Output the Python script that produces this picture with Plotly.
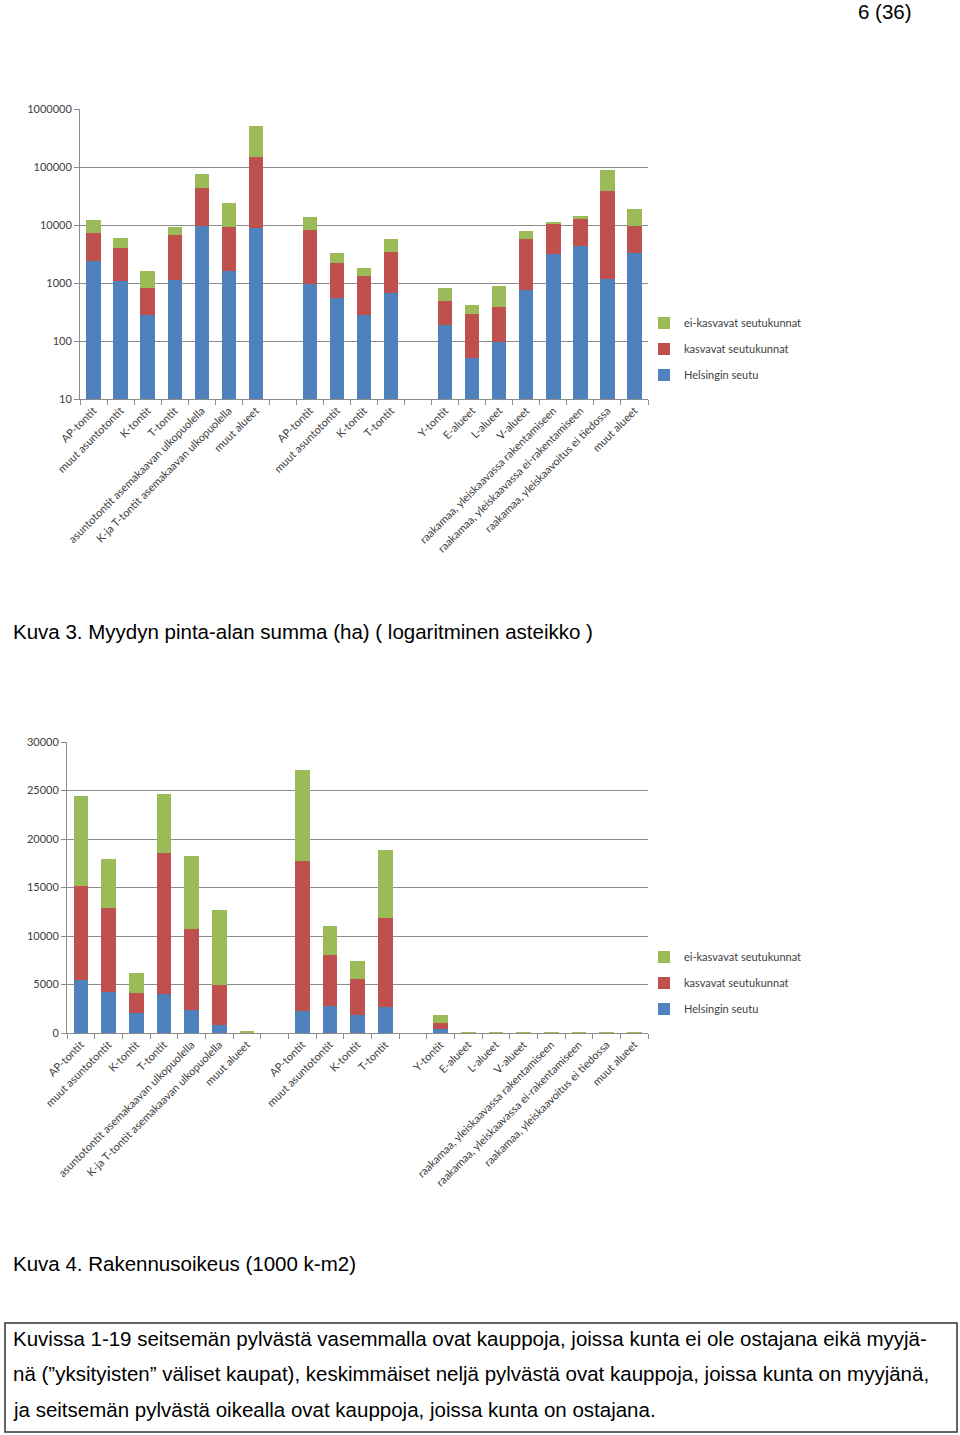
import plotly.graph_objects as go

W, H = 960, 1435

# ---- categories (21 slots incl. two empty spacers) ----
categories = [
    "AP-tontit", "muut asuntotontit", "K-tontit", "T-tontit",
    "asuntotontit asemakaavan ulkopuolella",
    "K-ja T-tontit asemakaavan ulkopuolella", "muut alueet",
    " ",
    "AP-tontit\u200b", "muut asuntotontit\u200b", "K-tontit\u200b", "T-tontit\u200b",
    "  ",
    "Y-tontit", "E-alueet", "L-alueet", "V-alueet",
    "raakamaa, yleiskaavassa rakentamiseen",
    "raakamaa, yleiskaavassa ei-rakentamiseen",
    "raakamaa, yleiskaavoitus ei tiedossa",
    "muut alueet\u200b",
]

series_names = ["Helsingin seutu", "kasvavat seutukunnat", "ei-kasvavat seutukunnat"]
colors = ["#4F81BD", "#C0504D", "#9BBB59"]
legend_ranks = [3, 2, 1]

# ---- Kuva 3: area sum (ha), segment values ----
area_helsinki = [2430, 1100, 280, 1110, 9490, 1590, 9000, None,
                 960, 560, 280, 664, None,
                 191, 50, 98, 748, 3120, 4280, 1170, 3290]
area_growing = [4750, 2900, 540, 5530, 34500, 7770, 141000, None,
                7140, 1650, 1020, 2716, None,
                305, 242, 282, 4990, 7680, 8420, 36800, 6200]
area_nongrowing = [4820, 1970, 790, 2600, 31700, 14540, 366000, None,
                   5600, 1030, 510, 2360, None,
                   324, 126, 508, 2140, 200, 1600, 51900, 9110]

# ---- Kuva 4: building rights (1000 k-m2), segment values ----
br_helsinki = [5430, 4260, 2060, 4050, 2400, 860, 5, None,
               2230, 2750, 1820, 2710, None,
               450, 5, 5, 10, 80, 80, 5, 5]
br_growing = [9690, 8630, 2100, 14510, 8360, 4090, 10, None,
              15540, 5290, 3710, 9110, None,
              580, 10, 10, 10, 5, 5, 80, 10]
br_nongrowing = [9280, 5050, 1990, 6080, 7450, 7760, 100, None,
                 9310, 3030, 1890, 7010, None,
                 830, 60, 60, 60, 5, 5, 5, 60]

log_ticks = [10, 100, 1000, 10000, 100000, 1000000]
lin_ticks = [0, 5000, 10000, 15000, 20000, 25000, 30000]

fig = go.Figure()

for i, vals in enumerate([area_helsinki, area_growing, area_nongrowing]):
    fig.add_trace(go.Bar(x=categories, y=vals, name=series_names[i],
                         marker=dict(color=colors[i], line=dict(width=0)),
                         xaxis="x", yaxis="y", legend="legend",
                         legendgroup="a%d" % i, legendrank=legend_ranks[i]))
for i, vals in enumerate([br_helsinki, br_growing, br_nongrowing]):
    fig.add_trace(go.Bar(x=categories, y=vals, name=series_names[i],
                         marker=dict(color=colors[i], line=dict(width=0)),
                         xaxis="x2", yaxis="y2", legend="legend2",
                         legendgroup="b%d" % i, legendrank=legend_ranks[i]))

grid = "#8C8C8C"
tickfont = dict(family="Lato", size=11, color="#404040")

def px_x(p):
    return p / W

def px_y(p):
    return 1 - p / H

xcommon = dict(type="category", categoryorder="array", categoryarray=categories,
               tickson="boundaries", ticks="outside", ticklen=5, tickcolor=grid,
               showline=True, linecolor=grid, linewidth=1, showgrid=False,
               tickangle=-45, tickfont=tickfont, range=[-0.5, 20.5],
               fixedrange=True, automargin=False)
ycommon = dict(showgrid=True, gridcolor=grid, gridwidth=1, showline=True,
               linecolor=grid, ticks="outside", ticklen=5, tickcolor=grid,
               tickfont=tickfont, zeroline=False, automargin=False)

legfont = dict(family="Lato", size=11, color="#404040")

fig.update_layout(
    width=W, height=H,
    margin=dict(l=0, r=0, t=0, b=0, autoexpand=False),
    paper_bgcolor="white", plot_bgcolor="white",
    barmode="stack", bargap=0.47,
    xaxis=dict(domain=[px_x(80), px_x(648)], anchor="y", **xcommon),
    yaxis=dict(domain=[px_y(399), px_y(109)], anchor="x", type="log",
               range=[1, 6], tickvals=log_ticks,
               ticktext=[str(v) for v in log_ticks], **ycommon),
    xaxis2=dict(domain=[px_x(67), px_x(648)], anchor="y2", **xcommon),
    yaxis2=dict(domain=[px_y(1033), px_y(742)], anchor="x2",
                range=[0, 30000], tickvals=lin_ticks,
                ticktext=[str(v) for v in lin_ticks], **ycommon),
    legend=dict(x=px_x(644), xanchor="left", y=px_y(349), yanchor="middle",
                traceorder="grouped", tracegroupgap=7,
                font=legfont, bgcolor="rgba(0,0,0,0)"),
    legend2=dict(x=px_x(644), xanchor="left", y=px_y(983), yanchor="middle",
                 traceorder="grouped", tracegroupgap=7,
                 font=legfont, bgcolor="rgba(0,0,0,0)"),
    showlegend=True,
)

body = dict(family="Liberation Sans, Arial", size=20.5, color="black")
annots = [
    dict(text="6 (36)", x=px_x(914), y=px_y(12), xanchor="right", yanchor="middle"),
    dict(text="Kuva 3. Myydyn pinta-alan summa (ha) ( logaritminen asteikko )",
         x=px_x(11), y=px_y(631), xanchor="left", yanchor="middle"),
    dict(text="Kuva 4. Rakennusoikeus (1000 k-m2)",
         x=px_x(11), y=px_y(1263), xanchor="left", yanchor="middle"),
    dict(text="Kuvissa 1-19 seitsemän pylvästä vasemmalla ovat kauppoja, joissa kunta ei ole ostajana eikä myyjä-",
         x=px_x(11), y=px_y(1338), xanchor="left", yanchor="middle"),
    dict(text="nä (”yksityisten” väliset kaupat), keskimmäiset neljä pylvästä ovat kauppoja, joissa kunta on myyjänä,",
         x=px_x(11), y=px_y(1373), xanchor="left", yanchor="middle"),
    dict(text="ja seitsemän pylvästä oikealla ovat kauppoja, joissa kunta on ostajana.",
         x=px_x(11), y=px_y(1409), xanchor="left", yanchor="middle"),
]
for a in annots:
    fig.add_annotation(xref="paper", yref="paper", showarrow=False, font=body, **a)

fig.add_shape(type="rect", xref="paper", yref="paper",
              x0=px_x(5), x1=px_x(957), y0=px_y(1432), y1=px_y(1323),
              line=dict(color="#333333", width=1.5), fillcolor="rgba(0,0,0,0)")

fig.write_html(
    "out.html",
    config={"displayModeBar": False},
    post_script="document.body.style.margin='0px';document.body.style.overflow='hidden';",
)
